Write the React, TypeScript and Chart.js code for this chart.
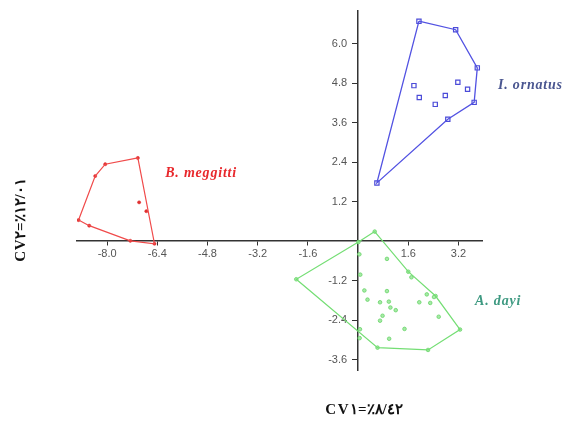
import React, { useEffect, useRef } from "react";
import { Chart, registerables } from "chart.js";

Chart.register(...registerables);

// ---- data ----
const xTicks = [-8.0, -6.4, -4.8, -3.2, -1.6, 1.6, 3.2];
const yTicks = [-3.6, -2.4, -1.2, 1.2, 2.4, 3.6, 4.8, 6.0];

const xTitle = "CV۱=٪۸/٤۲";
const yTitle = "CV۲=٪۱۲/۰۱";

// I. ornatus
const ornatusX = [1.94, 3.11, 3.80, 3.70, 2.86, 0.60, 1.78, 1.95, 2.46, 2.78, 3.18, 3.49];
const ornatusY = [6.69, 6.43, 5.27, 4.22, 3.71, 1.77, 4.73, 4.37, 4.16, 4.43, 4.83, 4.62];
const ornatusHull = [0, 1, 2, 3, 4, 5, 0];

// B. meggitti
const meggittiX = [-7.02, -8.06, -8.38, -8.91, -8.57, -7.26, -6.49, -6.75, -6.98];
const meggittiY = [2.53, 2.34, 1.98, 0.64, 0.47, 0.01, -0.08, 0.91, 1.18];
const meggittiHull = [0, 1, 2, 3, 4, 5, 6, 0];

// A. dayi
const dayiX = [0.53, 1.60, 2.47, 3.25, 2.23, 0.62, -1.97, 0.01,
  0.04, 0.92, 0.07, 1.70, 0.30, 0.70, 0.92, 0.98, 1.03, 1.20, 0.78, 0.70,
  1.48, 0.99, 0.06, 0.05, 1.95, 2.19, 2.30, 2.42, 2.57, 0.20];
const dayiY = [0.29, -0.93, -1.67, -2.69, -3.31, -3.24, -1.16, -0.03,
  -0.40, -0.54, -1.02, -1.10, -1.78, -1.86, -1.52, -1.84, -2.02, -2.10, -2.27, -2.42,
  -2.67, -2.97, -2.68, -2.95, -1.86, -1.62, -1.88, -1.70, -2.30, -1.50];
const dayiHull = [0, 1, 2, 3, 4, 5, 6, 7, 0];

const speciesNames = ["B. meggitti", "I. ornatus", "A. dayi"];
const speciesColors = ["#e8282c", "#4a5690", "#3f9a82"];
// label anchors (data units)
const labelAnchorX = [-6.15, 4.46, 3.73];
const labelAnchorY = [2.07, 4.74, -1.82];

const pts = (xs: number[], ys: number[]) => xs.map((x, i) => ({ x, y: ys[i] }));
const hull = (xs: number[], ys: number[], idx: number[]) => idx.map((i) => ({ x: xs[i], y: ys[i] }));

const textPlugin = {
  id: "texts",
  afterDraw(chart: any) {
    const { ctx, scales } = chart;
    const xs = scales.x;
    const ys = scales.y;
    ctx.save();
    ctx.textBaseline = "middle";
    ctx.textAlign = "left";
    ctx.font = 'italic bold 14px "Liberation Serif", serif';
    ctx.letterSpacing = "0.8px";
    speciesNames.forEach((n, i) => {
      ctx.fillStyle = speciesColors[i];
      ctx.fillText(n, xs.getPixelForValue(labelAnchorX[i]), ys.getPixelForValue(labelAnchorY[i]));
    });
    ctx.fillStyle = "#111";
    ctx.textAlign = "center";
    ctx.font = 'bold 15px "Liberation Serif", "DejaVu Serif", serif';
    ctx.letterSpacing = "1.5px";
    ctx.fillText(xTitle, 364, 410);
    ctx.letterSpacing = "0.5px";
    ctx.translate(21, 220);
    ctx.rotate(-Math.PI / 2);
    ctx.fillText(yTitle, 0, 0);
    ctx.restore();
  },
};

export default function App() {
  const ref = useRef<HTMLCanvasElement | null>(null);
  useEffect(() => {
    if (!ref.current) return;
    const axisColor = "#333";
    const tickFont = { family: '"Liberation Sans", Arial, sans-serif', size: 11 };
    const chart = new Chart(ref.current, {
      type: "scatter",
      data: {
        datasets: [
          {
            data: hull(meggittiX, meggittiY, meggittiHull),
            showLine: true,
            borderColor: "#f04a4a",
            borderWidth: 1.2,
            pointRadius: 0,
            fill: false,
          },
          {
            data: pts(meggittiX, meggittiY),
            pointStyle: "circle",
            pointRadius: 1.6,
            backgroundColor: "#e03030",
            borderColor: "#e03030",
            borderWidth: 0.5,
          },
          {
            data: hull(ornatusX, ornatusY, ornatusHull),
            showLine: true,
            borderColor: "#5252e2",
            borderWidth: 1.3,
            pointRadius: 0,
            fill: false,
          },
          {
            data: pts(ornatusX, ornatusY),
            pointStyle: "rect",
            pointRadius: 3,
            backgroundColor: "rgba(255,255,255,0.9)",
            borderColor: "#4b4bd8",
            borderWidth: 1.2,
          },
          {
            data: hull(dayiX, dayiY, dayiHull),
            showLine: true,
            borderColor: "#74de74",
            borderWidth: 1.2,
            pointRadius: 0,
            fill: false,
          },
          {
            data: pts(dayiX, dayiY),
            pointStyle: "circle",
            pointRadius: 1.8,
            backgroundColor: "#a6eaa6",
            borderColor: "#68d468",
            borderWidth: 0.8,
          },
        ],
      },
      options: {
        responsive: false,
        animation: false,
        devicePixelRatio: 1,
        layout: { padding: { left: 77, right: 83, top: 11, bottom: 53 } },
        plugins: { legend: { display: false }, tooltip: { enabled: false } },
        scales: {
          x: {
            type: "linear",
            position: { y: 0 },
            min: -8.96,
            max: 3.95,
            afterBuildTicks: (s: any) => {
              s.ticks = xTicks.map((v) => ({ value: v }));
            },
            afterFit: (s: any) => {
              s.height = 0;
            },
            grid: { display: true, drawOnChartArea: false, drawTicks: true, tickLength: 4, color: axisColor, lineWidth: 1 },
            border: { display: true, color: axisColor, width: 1.5 },
            ticks: {
              autoSkip: false,
              maxRotation: 0,
              padding: 2,
              color: "#555",
              font: tickFont,
              callback: (v: any) => Number(v).toFixed(1),
            },
          },
          y: {
            type: "linear",
            position: { x: 0 },
            min: -3.92,
            max: 7.0,
            afterBuildTicks: (s: any) => {
              s.ticks = yTicks.map((v) => ({ value: v }));
            },
            afterFit: (s: any) => {
              s.width = 0;
            },
            grid: { display: true, drawOnChartArea: false, drawTicks: true, tickLength: 5, color: axisColor, lineWidth: 1 },
            border: { display: true, color: axisColor, width: 1.5 },
            ticks: {
              autoSkip: false,
              padding: 4,
              color: "#555",
              font: tickFont,
              callback: (v: any) => Number(v).toFixed(1) + "\u2002\u2002",
            },
          },
        },
      },
      plugins: [textPlugin],
    } as any);
    return () => chart.destroy();
  }, []);
  return (
    <div style={{ position: "absolute", left: 0, top: 0, width: 565, height: 423, background: "#fff" }}>
      <canvas ref={ref} width={565} height={423} style={{ display: "block" }} />
    </div>
  );
}
